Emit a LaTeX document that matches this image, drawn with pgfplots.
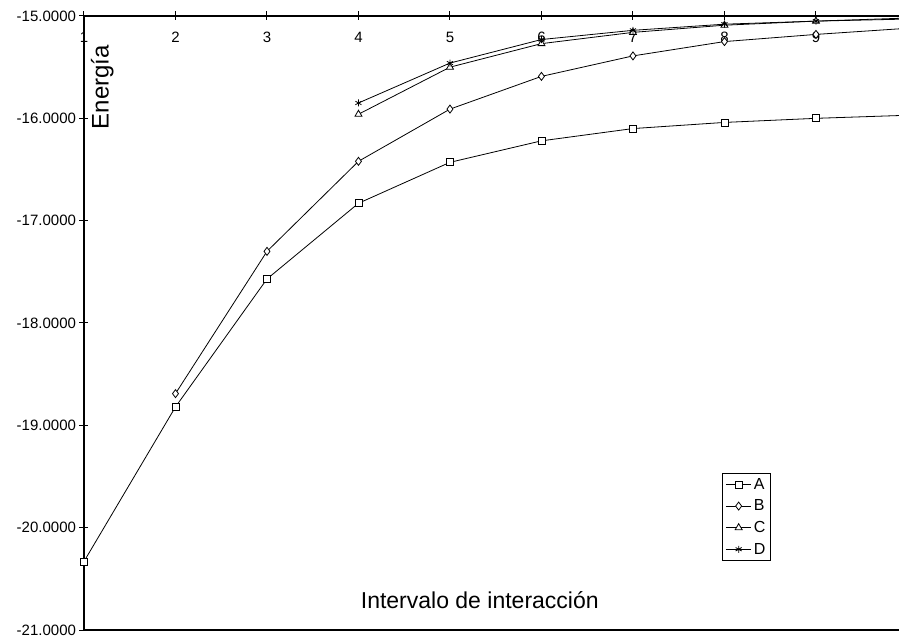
\documentclass[border=0pt]{standalone}
\usepackage{fontspec}
\setmainfont{Liberation Sans}
\usepackage{pgfplots}
\pgfplotsset{compat=1.18}
\begin{document}
\begin{tikzpicture}
\begin{axis}[
  at={(0pt,0pt)}, anchor=north west,
  scale only axis,
  width=828pt, height=614pt,
  xmin=1, xmax=10.05, ymin=-21, ymax=-15,
  axis line style={line width=2.2pt},
  xtick={1,...,10}, ytick={-21,-20,...,-15},
  xtick pos=right, ytick pos=left,
  xticklabel pos=right,
  tick align=center, major tick length=9pt,
  tick style={line width=1pt, black},
  xticklabel style={anchor=center, yshift=-26pt, font=\fontsize{15}{17}\selectfont},
  yticklabel style={font=\fontsize{15}{17}\selectfont, /pgf/number format/fixed, /pgf/number format/fixed zerofill, /pgf/number format/precision=4},
  /pgf/number format/assume math mode=true,
  xlabel={Intervalo de interacción},
  xlabel style={at={(axis description cs:0.478,0.049)}, anchor=center, font=\fontsize{23}{27}\selectfont},
  ylabel={Energía},
  ylabel style={at={(axis description cs:0.022,0.884)}, anchor=center, font=\fontsize{24}{28}\selectfont},
  legend style={at={(axis description cs:0.7705,0.256)}, anchor=north west, draw=black, line width=1pt,
    font=\fontsize{16}{18}\selectfont, inner xsep=3pt, inner ysep=3pt, row sep=5pt, cells={anchor=west}},
  legend image code/.code={\draw[mark repeat=2,mark phase=2] plot coordinates {(0cm,0cm)(0.45cm,0cm)(0.9cm,0cm)};},
  every axis plot/.append style={black, line width=0.8pt, mark options={solid, fill=white, line width=0.8pt}},
]
\addplot[mark=square*, mark size=3.5pt] coordinates {(1,-20.33)(2,-18.82)(3,-17.57)(4,-16.83)(5,-16.43)(6,-16.22)(7,-16.10)(8,-16.04)(9,-16.00)(10,-15.97)};
\addlegendentry{A}
\addplot[mark=diamond*, mark size=4pt] coordinates {(2,-18.69)(3,-17.30)(4,-16.42)(5,-15.91)(6,-15.59)(7,-15.39)(8,-15.25)(9,-15.18)(10,-15.12)};
\addlegendentry{B}
\addplot[mark=triangle*, mark size=4pt] coordinates {(4,-15.96)(5,-15.50)(6,-15.27)(7,-15.16)(8,-15.09)(9,-15.05)(10,-15.03)};
\addlegendentry{C}
\addplot[mark=asterisk, mark size=3.5pt] coordinates {(4,-15.85)(5,-15.46)(6,-15.23)(7,-15.14)(8,-15.08)(9,-15.05)(10,-15.02)};
\addlegendentry{D}
\end{axis}
\pgfresetboundingbox
\path[use as bounding box] (-84pt,16pt) rectangle (815pt,-620pt);
\end{tikzpicture}
\end{document}
